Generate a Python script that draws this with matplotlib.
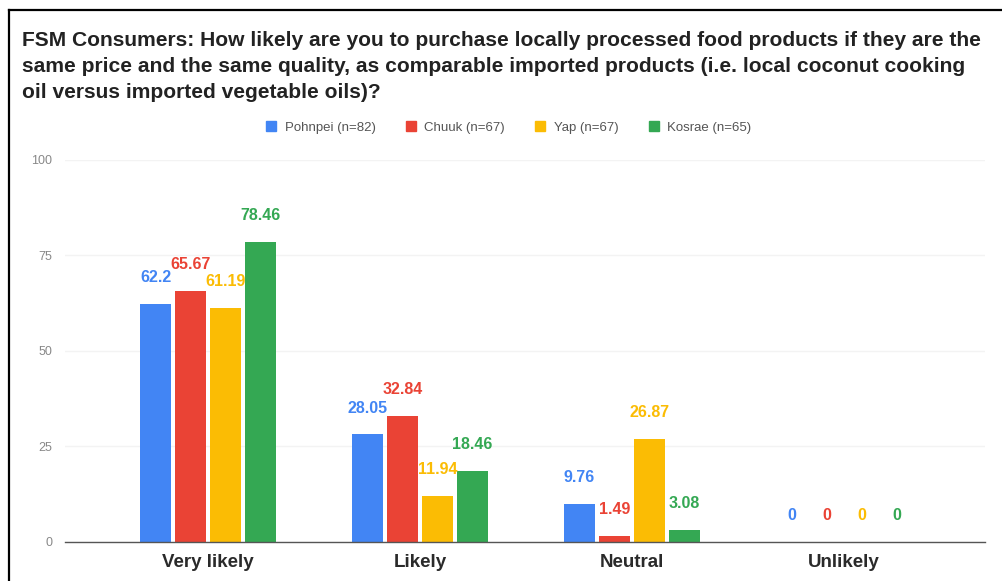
import numpy as np
import matplotlib
matplotlib.use('Agg')
import matplotlib.pyplot as plt
from matplotlib.lines import Line2D

# Survey responses (% of respondents) per state
categories = ["Very likely", "Likely", "Neutral", "Unlikely"]
states = ["Pohnpei (n=82)", "Chuuk (n=67)", "Yap (n=67)", "Kosrae (n=65)"]
pohnpei = [62.2, 28.05, 9.76, 0]
chuuk = [65.67, 32.84, 1.49, 0]
yap = [61.19, 11.94, 26.87, 0]
kosrae = [78.46, 18.46, 3.08, 0]
y_ticks = [0, 25, 50, 75, 100]

colors = ["#4285F4", "#EA4335", "#FBBC04", "#34A853"]
title_lines = [
    "FSM Consumers: How likely are you to purchase locally processed food products if they are the",
    "same price and the same quality, as comparable imported products (i.e. local coconut cooking",
    "oil versus imported vegetable oils)?",
]

plt.rcParams['font.family'] = ['Liberation Sans', 'DejaVu Sans']

W, H = 1003, 581
fig = plt.figure(figsize=(W / 100, H / 100), dpi=100)
fig.patch.set_facecolor("white")

# frame around the card (bottom and right run off the image)
fig.add_artist(Line2D([9 / W, 1.01], [1 - 10 / H, 1 - 10 / H], color="black", lw=1.6))
fig.add_artist(Line2D([9 / W, 9 / W], [1 - 10 / H, -0.01], color="black", lw=1.6))

for i, line in enumerate(title_lines):
    fig.text(22 / W, 1 - (41 + i * 26) / H, line, fontsize=15.1, fontweight="bold",
             color="#222222", ha="left", va="center")

ax = fig.add_axes([65 / W, 1 - 541.5 / H, 920 / W, (541.5 - 160) / H])
x = np.arange(len(categories))
series = [pohnpei, chuuk, yap, kosrae]
bar_w = 0.146
step = 0.165
for k, (vals, col) in enumerate(zip(series, colors)):
    pos = x + (k - 1.5) * step
    ax.bar(pos, vals, width=bar_w, color=col, zorder=3)
    for px, v in zip(pos, vals):
        label = f"{v:g}"
        ax.annotate(label, (px, v), xytext=(0, 19), textcoords="offset points",
                    ha="center", va="center", fontsize=11.5, fontweight="bold",
                    color=col, zorder=4)

ax.set_xlim(-0.675, 3.665)
ax.set_ylim(0, 100)
ax.set_yticks(y_ticks)
ax.set_yticklabels([str(t) for t in y_ticks], fontsize=9, color="#888888")
ax.set_xticks(x)
ax.set_xticklabels(categories, fontsize=13.5, fontweight="bold", color="#2a2a2a")
ax.tick_params(axis="y", length=0, pad=9)
ax.tick_params(axis="x", length=0, pad=9)
ax.grid(axis="y", color="#f3f3f3", lw=1, zorder=0)
for s in ["top", "right", "left"]:
    ax.spines[s].set_visible(False)
ax.spines["bottom"].set_color("#555555")
ax.spines["bottom"].set_linewidth(1)
ax.spines["bottom"].set_zorder(5)

handles = [Line2D([], [], marker="s", ls="", markersize=7.5, color=c) for c in colors]
fig.legend(handles, states, loc="center", bbox_to_anchor=(508 / W, 1 - 128 / H),
           ncol=4, frameon=False, fontsize=9.5, labelcolor="#555555",
           handletextpad=0.5, columnspacing=2.2, handlelength=1.0)

fig.savefig("out.png", dpi=100)
